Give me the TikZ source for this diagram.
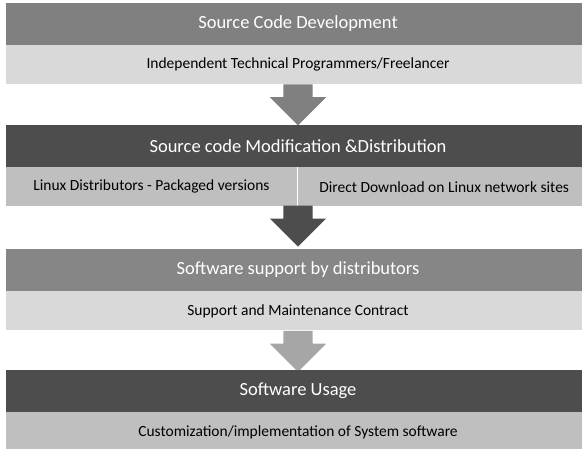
\documentclass[tikz,border=0pt]{standalone}
\usepackage{fontspec}
\setmainfont{Carlito}
\usepackage{tikz}
\usetikzlibrary{shapes.arrows, positioning}
\definecolor{midgray}{HTML}{808080}
\definecolor{darkgray}{HTML}{4D4D4D}
\definecolor{palegray}{HTML}{D9D9D9}
\definecolor{lightgray}{HTML}{BFBFBF}
\definecolor{softgray}{HTML}{A6A6A6}
\tikzset{
  ttl/.style={rectangle, fill=#1, text=white, minimum width=584pt,
              minimum height=42pt, inner sep=0pt,
              font=\fontsize{18.5}{20}\selectfont},
  sbar/.style={rectangle, fill=#1, text=black, minimum width=584pt,
               minimum height=39pt, inner sep=0pt,
               font=\fontsize{15.5}{17}\selectfont},
  blk/.style={single arrow, fill=#1, draw=none, minimum height=41pt,
              inner xsep=0pt, inner ysep=14.5pt,
              single arrow head extend=13.5pt,
              single arrow tip angle=90, rotate=-90, anchor=tail},
}

\begin{document}
\begin{tikzpicture}[x=1pt, y=-1pt]
  \useasboundingbox (0,0) rectangle (582,448);
  \node[ttl=midgray] (dev) at (298,23.5) {Source Code Development};
  \node[sbar=palegray, below=0pt of dev] (devsub) {Independent Technical Programmers/Freelancer};
  \node[blk=midgray] (a1) at (devsub.south) {};
  \node[ttl=darkgray] (mod) at (298,146) {Source code Modification \&Distribution};
  \node[sbar=lightgray, minimum width=290.5pt, anchor=north west] (modl) at (6,167)
    {Linux Distributors - Packaged versions};
  \node[sbar=lightgray, minimum width=292pt, anchor=north west] (modr) at (298,167)
    {Direct Download on Linux network sites};
  \node[blk=darkgray] (a2) at (298,205.5) {};
  \node[ttl=midgray!95!white] (sup) at (298,270) {Software support by distributors};
  \node[sbar=palegray, below=0pt of sup] (supsub) {Support and Maintenance Contract};
  \node[blk=softgray] (a3) at (supsub.south) {};
  \node[ttl=darkgray] (use) at (298,391) {Software Usage};
  \node[sbar=lightgray, below=0pt of use] (usesub) {Customization/implementation of System software};
\end{tikzpicture}
\end{document}
